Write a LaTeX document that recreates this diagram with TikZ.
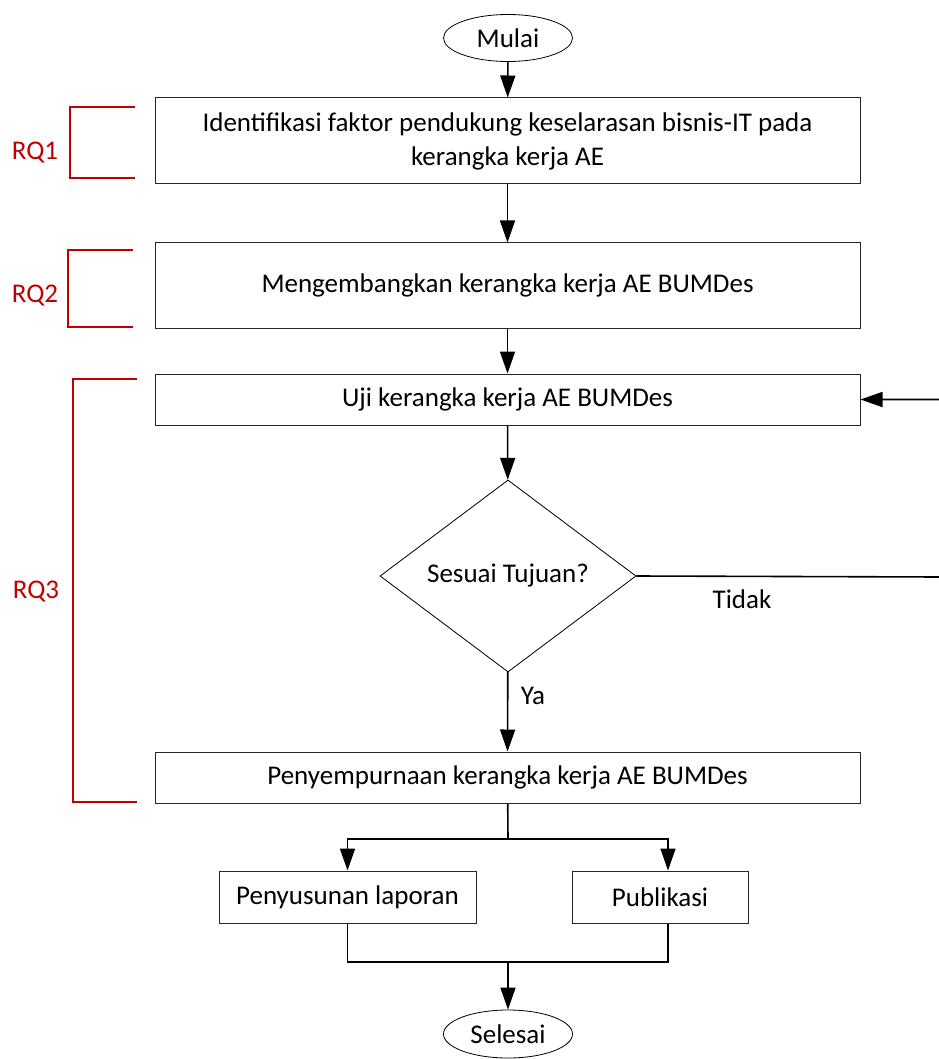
\documentclass[tikz,border=0pt]{standalone}
\usepackage{fontspec}
\setmainfont{Carlito}
\usetikzlibrary{arrows.meta,shapes.geometric}
\definecolor{rqred}{RGB}{192,0,0}
\begin{document}
\begin{tikzpicture}[x=0.5pt,y=-0.5pt,
  font=\fontsize{13.5}{17}\selectfont,
  box/.style={draw=black!85, line width=0.5pt, inner sep=0pt, align=center,
    minimum width=352.5pt},
  term/.style={draw=black, line width=0.4pt, ellipse, inner sep=0pt,
    minimum width=64.5pt, minimum height=23.5pt},
  decide/.style={draw=black, line width=0.4pt, diamond, inner sep=0pt,
    minimum width=128pt, minimum height=96pt},
  flow/.style={draw=black, line width=0.8pt},
  arr/.style={flow, -{Triangle[length=11pt,width=7.5pt]}},
  rq/.style={draw=rqred, line width=0.7pt},
  rqtext/.style={text=rqred}]

\useasboundingbox (0,0) rectangle (938,1059);

% main column
\node[term] (start) at (508,38) {Mulai};
\node[box, minimum height=43pt] (b1) at (507.5,141)
  {Identifikasi faktor pendukung keselarasan bisnis-IT pada\\kerangka kerja AE};
\node[box, minimum height=42.5pt] (b2) at (507.5,285.5)
  {Mengembangkan kerangka kerja AE BUMDes};
\node[box, minimum height=25.5pt] (b3) at (507.5,399.5)
  {Uji kerangka kerja AE BUMDes};
\node[decide] (d) at (508,576) {Sesuai Tujuan?};
\node[box, minimum height=25.5pt] (b4) at (507.5,777.5)
  {Penyempurnaan kerangka kerja AE BUMDes};
\node[box, minimum width=128.5pt, minimum height=26pt] (lap) at (347.5,897)
  {Penyusunan laporan};
\node[box, minimum width=88pt, minimum height=26pt] (pub) at (660,897)
  {Publikasi};
\node[term, minimum height=24pt] (end) at (508,1034) {Selesai};

% connectors
\draw[arr] (start) -- (b1);
\draw[arr] (b1) -- (b2);
\draw[arr] (b2) -- (b3);
\draw[arr] (b3) -- (d);
\draw[arr] (d) -- (b4);
\node (ya) at (533,696) {Ya};

\coordinate (loopR) at (941,577);
\draw[arr] (d.east) -- (loopR) |- (b3.east);
\node (tidak) at (742,599) {Tidak};

\coordinate (fork) at (508,839);
\draw[flow] (b4) -- (fork);
\draw[arr] (fork) -| (lap.north);
\draw[arr] (fork) -| ([xshift=4pt]pub.north);

\coordinate (join) at (508,962);
\draw[flow] (lap.south) |- (join);
\draw[flow] ([xshift=4pt]pub.south) |- (join);
\draw[arr] (join) -- (end);

% research question brackets
\draw[rq] (135,107) -- (70,107) -- (70,178) -- (135,178);
\node[rqtext] (rq1) at (35,153) {RQ1};
\draw[rq] (133,250) -- (68,250) -- (68,327) -- (133,327);
\node[rqtext] (rq2) at (35,296) {RQ2};
\draw[rq] (137,379) -- (73,379) -- (73,802) -- (137,802);
\node[rqtext] (rq3) at (36,592) {RQ3};
\end{tikzpicture}
\end{document}
